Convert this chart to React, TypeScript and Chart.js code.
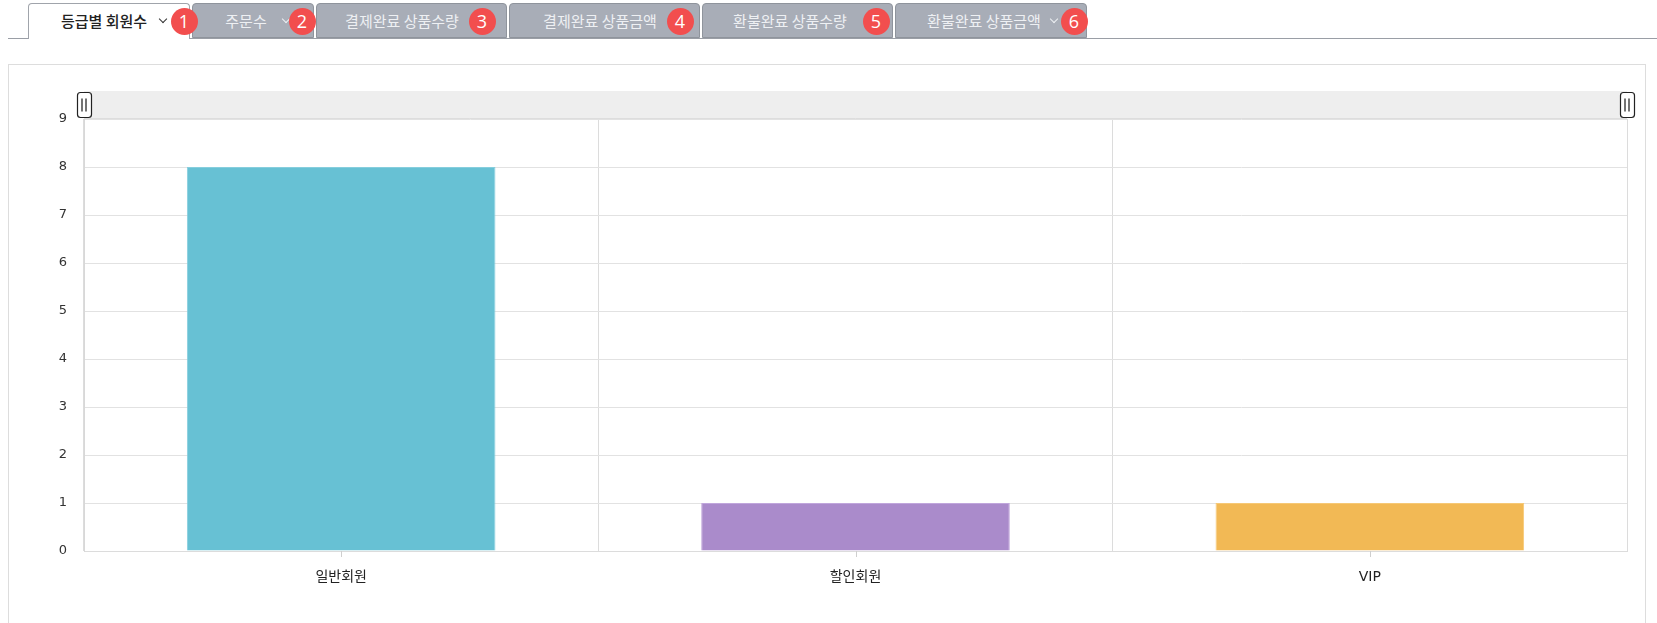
import React, { useEffect, useRef } from "react";
import { Chart, registerables } from "chart.js";

Chart.register(...registerables);

const categories = ["일반회원", "할인회원", "VIP"];
const memberCounts = [8, 1, 1];
const barColors = ["#67c1d4", "#aa8bcb", "#f2b955"];
const barBorderColors = ["#86cedd", "#c0a6dc", "#f6c876"];
const yTickValues = [0, 1, 2, 3, 4, 5, 6, 7, 8, 9];
const tabLabels = ["등급별 회원수", "주문수", "결제완료 상품수량", "결제완료 상품금액", "환불완료 상품수량", "환불완료 상품금액"];
const badgeNumbers = ["1", "2", "3", "4", "5", "6"];

// layout of tabs (page px)
const tabLayout = [
  { left: 28, width: 162, text: 104, badge: 184, chevron: 163 },
  { left: 192, width: 122, text: 246, badge: 302, chevron: 286 },
  { left: 316, width: 191, text: 402, badge: 482, chevron: null },
  { left: 509, width: 191, text: 600, badge: 680, chevron: null },
  { left: 702, width: 191, text: 790, badge: 876, chevron: null },
  { left: 895, width: 192, text: 984, badge: 1074, chevron: 1054 },
];

const FONT = "'DejaVu Sans', 'Noto Sans CJK KR', sans-serif";
const KFONT = "'Noto Sans CJK KR', 'Noto Sans', sans-serif";

const overlayPlugin = {
  id: "overlay",
  afterDraw(chart: any) {
    const { ctx, chartArea } = chart;
    const xs = chart.scales.x;
    ctx.save();
    // center tick marks
    ctx.strokeStyle = "#cfcfcf";
    ctx.lineWidth = 1;
    categories.forEach((_, i) => {
      const px = Math.round(xs.getPixelForValue(i)) + 0.5;
      ctx.beginPath();
      ctx.moveTo(px, chartArea.bottom);
      ctx.lineTo(px, chartArea.bottom + 6);
      ctx.stroke();
    });
    // slider bar
    const h = 28;
    const top = chartArea.top - h;
    ctx.fillStyle = "#eeeeee";
    ctx.fillRect(chartArea.left, top, chartArea.right - chartArea.left, h);
    ctx.strokeStyle = "#dddddd";
    ctx.beginPath();
    ctx.moveTo(chartArea.left, chartArea.top - 0.5);
    ctx.lineTo(chartArea.right, chartArea.top - 0.5);
    ctx.stroke();
    // handles
    const drawHandle = (cx: number) => {
      const w = 14, hh = 25;
      const x = Math.round(cx - w / 2) + 0.5;
      const y = top + 1.5;
      const r = 3;
      ctx.beginPath();
      ctx.moveTo(x + r, y);
      ctx.lineTo(x + w - r, y);
      ctx.quadraticCurveTo(x + w, y, x + w, y + r);
      ctx.lineTo(x + w, y + hh - r);
      ctx.quadraticCurveTo(x + w, y + hh, x + w - r, y + hh);
      ctx.lineTo(x + r, y + hh);
      ctx.quadraticCurveTo(x, y + hh, x, y + hh - r);
      ctx.lineTo(x, y + r);
      ctx.quadraticCurveTo(x, y, x + r, y);
      ctx.closePath();
      ctx.fillStyle = "#ffffff";
      ctx.fill();
      ctx.strokeStyle = "#222222";
      ctx.lineWidth = 1.2;
      ctx.stroke();
      ctx.lineWidth = 1.5;
      ctx.strokeStyle = "#444444";
      [-2, 2].forEach((d) => {
        ctx.beginPath();
        ctx.moveTo(Math.round(cx) + d, y + 6);
        ctx.lineTo(Math.round(cx) + d, y + hh - 6);
        ctx.stroke();
      });
    };
    drawHandle(chartArea.left);
    drawHandle(chartArea.right);
    ctx.restore();
  },
};

function Tabs() {
  return (
    <>
      <div style={{ position: "absolute", left: 8, right: 0, top: 38, height: 1, background: "#9a9ea6" }} />
      {tabLabels.map((label, i) => {
        const t = tabLayout[i];
        const active = i === 0;
        return (
          <div
            key={i}
            style={{
              position: "absolute",
              left: t.left,
              top: 3,
              width: t.width,
              height: active ? 36 : 35,
              boxSizing: "border-box",
              background: active ? "#ffffff" : "#a8adb7",
              border: active ? "1px solid #a0a4ab" : "1px solid #8f949c",
              borderBottom: active ? "none" : "1px solid #8f949c",
              borderRadius: "4px 4px 0 0",
            }}
          />
        );
      })}
      {tabLabels.map((label, i) => {
        const t = tabLayout[i];
        const active = i === 0;
        return (
          <div
            key={"t" + i}
            style={{
              position: "absolute",
              left: t.text - 100,
              width: 200,
              top: 11,
              textAlign: "center",
              fontFamily: KFONT,
              fontSize: 15,
              lineHeight: "20px",
              fontWeight: active ? 500 : 400,
              color: active ? "#222222" : "#eef0f3",
              whiteSpace: "nowrap",
            }}
          >
            {label}
          </div>
        );
      })}
      {tabLayout.map((t, i) =>
        t.chevron ? (
          <div
            key={"c" + i}
            style={{
              position: "absolute",
              left: t.chevron - 3,
              top: 16,
              width: 5,
              height: 5,
              borderRight: `1.5px solid ${i === 0 ? "#333" : "#eef0f3"}`,
              borderBottom: `1.5px solid ${i === 0 ? "#333" : "#eef0f3"}`,
              transform: "rotate(45deg)",
            }}
          />
        ) : null
      )}
      {badgeNumbers.map((n, i) => (
        <div
          key={"b" + i}
          style={{
            position: "absolute",
            left: tabLayout[i].badge - 13.5,
            top: 8,
            width: 27,
            height: 27,
            borderRadius: "50%",
            background: "#f24e4e",
            color: "#ffffff",
            fontFamily: "'Open Sans', 'Noto Sans', sans-serif",
            fontSize: 18,
            lineHeight: "27px",
            textAlign: "center",
          }}
        >
          {n}
        </div>
      ))}
    </>
  );
}

export default function App() {
  const canvasRef = useRef<HTMLCanvasElement | null>(null);

  useEffect(() => {
    if (!canvasRef.current) return;
    const chart = new Chart(canvasRef.current, {
      type: "bar",
      data: {
        labels: categories,
        datasets: [
          {
            label: "회원수",
            data: memberCounts,
            backgroundColor: barColors,
            borderColor: barBorderColors,
            borderWidth: 1,
            categoryPercentage: 1,
            barPercentage: 0.6,
          },
        ],
      },
      options: {
        animation: false,
        responsive: false,
        maintainAspectRatio: false,
        layout: { padding: { left: 0, right: 17, top: 54, bottom: 0 } },
        plugins: { legend: { display: false }, tooltip: { enabled: false } },
        scales: {
          x: {
            offset: true,
            grid: { offset: true, color: "#dcdcdc", drawTicks: false },
            border: { color: "#dcdcdc" },
            ticks: { color: "#222", font: { family: FONT, size: 14 }, padding: 18 },
            afterFit: (s: any) => {
              s.height = 72;
            },
          },
          y: {
            min: 0,
            max: yTickValues[yTickValues.length - 1],
            afterBuildTicks: (s: any) => {
              s.ticks = yTickValues.map((v) => ({ value: v }));
            },
            grid: { color: "#e2e2e2", drawTicks: false },
            border: { color: "#d8d8d8" },
            ticks: { color: "#333", font: { family: FONT, size: 13 }, padding: 17 },
            afterFit: (s: any) => {
              s.width = 75;
            },
          },
        },
      },
      plugins: [overlayPlugin],
    });
    return () => chart.destroy();
  }, []);

  return (
    <div style={{ position: "fixed", left: 0, top: 0, width: 1657, height: 623, background: "#fff", overflow: "hidden" }}>
      <Tabs />
      <div
        style={{
          position: "absolute",
          left: 8,
          top: 64,
          width: 1638,
          height: 600,
          boxSizing: "border-box",
          border: "1px solid #dddddd",
        }}
      />
      <canvas
        ref={canvasRef}
        width={1635}
        height={558}
        style={{ position: "absolute", left: 9, top: 65, width: 1635, height: 558 }}
      />
    </div>
  );
}
